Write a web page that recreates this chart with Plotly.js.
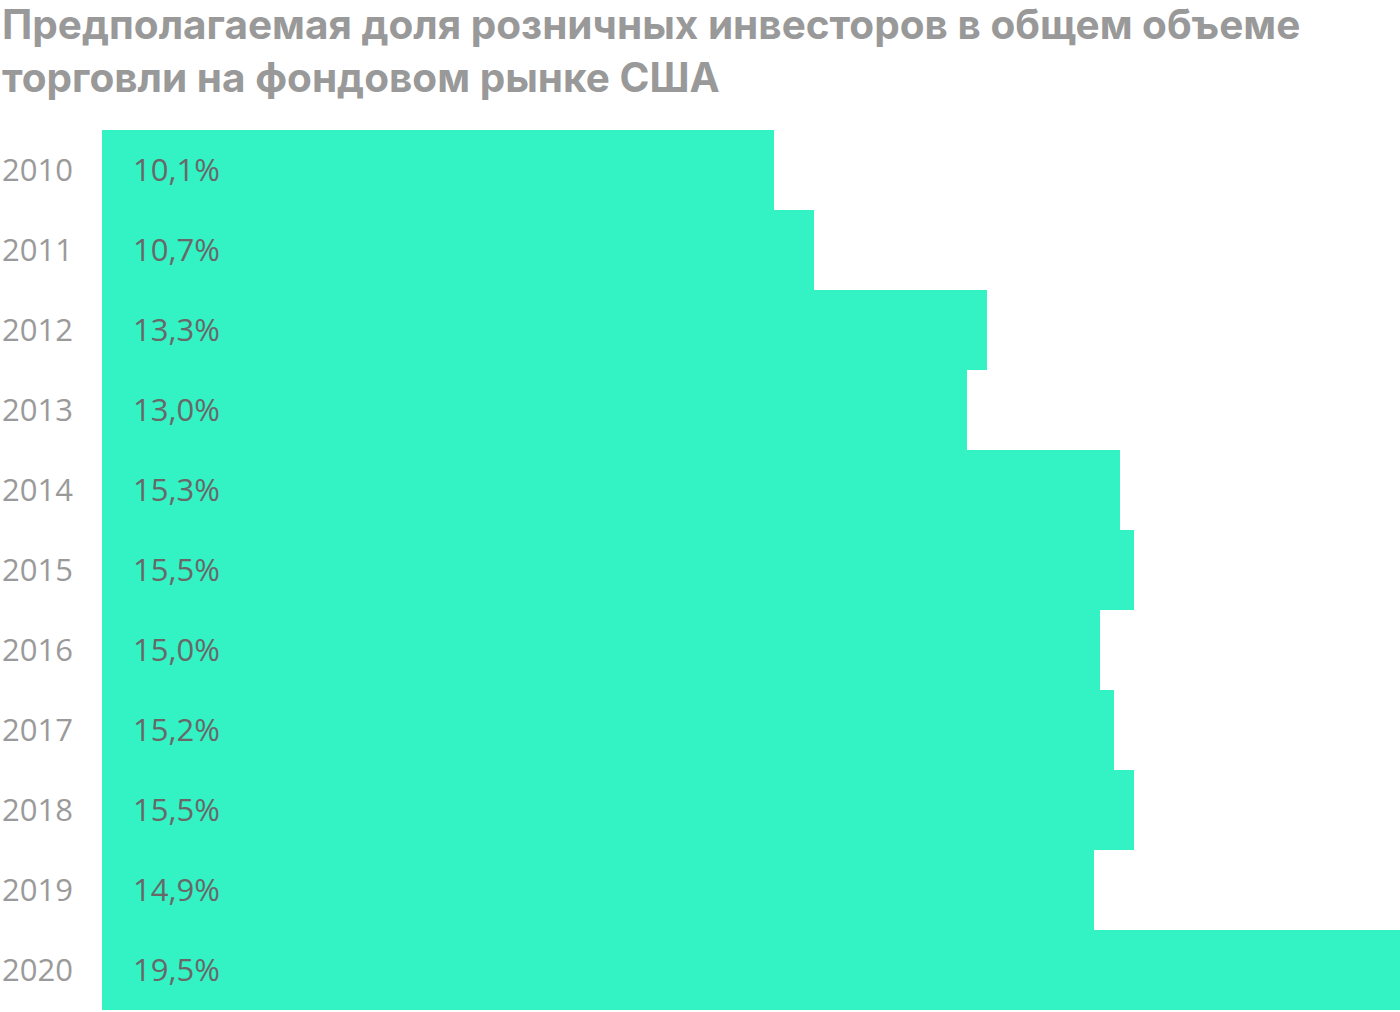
<!DOCTYPE html>
<html>
<head>
<meta charset="utf-8">
<script src="https://cdn.plot.ly/plotly-3.0.1.min.js"></script>
<style>
  html, body { margin: 0; padding: 0; background: #fff; }
  #chart { width: 1400px; height: 1012px; }
</style>
</head>
<body>
<div id="chart"></div>
<script>
// Retail investors' share of US stock market trading volume, by year
const years = ['2010', '2011', '2012', '2013', '2014', '2015', '2016', '2017', '2018', '2019', '2020'];
const shares = [10.1, 10.7, 13.3, 13.0, 15.3, 15.5, 15.0, 15.2, 15.5, 14.9, 19.5];
const shareLabels = ['10,1%', '10,7%', '13,3%', '13,0%', '15,3%', '15,5%', '15,0%', '15,2%', '15,5%', '14,9%', '19,5%'];

const titleText = 'Предполагаемая доля розничных инвесторов в общем объеме<br>торговли на фондовом рынке США';

const W = 1400, H = 1012;
const M = { l: 102, r: 0, t: 130, b: 2 };
const plotW = W - M.l - M.r, plotH = H - M.t - M.b;

const trace = {
    type: 'bar',
    orientation: 'h',
    x: shares,
    y: years,
    marker: { color: '#33f3c5' },
    hoverinfo: 'skip'
};

// value labels sit at the left of each bar
const annotations = years.map((yr, i) => ({
    xref: 'x', yref: 'y',
    x: 0, y: yr,
    text: shareLabels[i],
    showarrow: false,
    xanchor: 'left',
    xshift: 29,
    yshift: 1,
    font: { family: 'Open Sans', size: 31, color: '#686868' }
}));

// title as an annotation so both lines hang from the top edge
annotations.push({
    xref: 'paper', yref: 'paper',
    x: -M.l / plotW, xanchor: 'left',
    y: 1 + M.t / plotH, yanchor: 'top',
    yshift: 2,
    align: 'left',
    showarrow: false,
    text: titleText,
    font: { family: 'Inter', size: 40.5, color: '#999999', weight: 'bold' }
});

const layout = {
    width: W,
    height: H,
    paper_bgcolor: '#fff',
    plot_bgcolor: '#fff',
    margin: M,
    bargap: 0,
    showlegend: false,
    xaxis: {
        range: [0, 19.5],
        showgrid: false, zeroline: false, showticklabels: false, ticks: ''
    },
    yaxis: {
        autorange: 'reversed',
        tickmode: 'array', tickvals: years, ticktext: years,
        showgrid: false, zeroline: false, ticks: '',
        ticklabelstandoff: 28,
        tickfont: { family: 'Open Sans', size: 31, color: '#9a9a9a' }
    },
    annotations: annotations
};

Plotly.newPlot('chart', [trace], layout, { displayModeBar: false, staticPlot: true });
</script>
</body>
</html>
